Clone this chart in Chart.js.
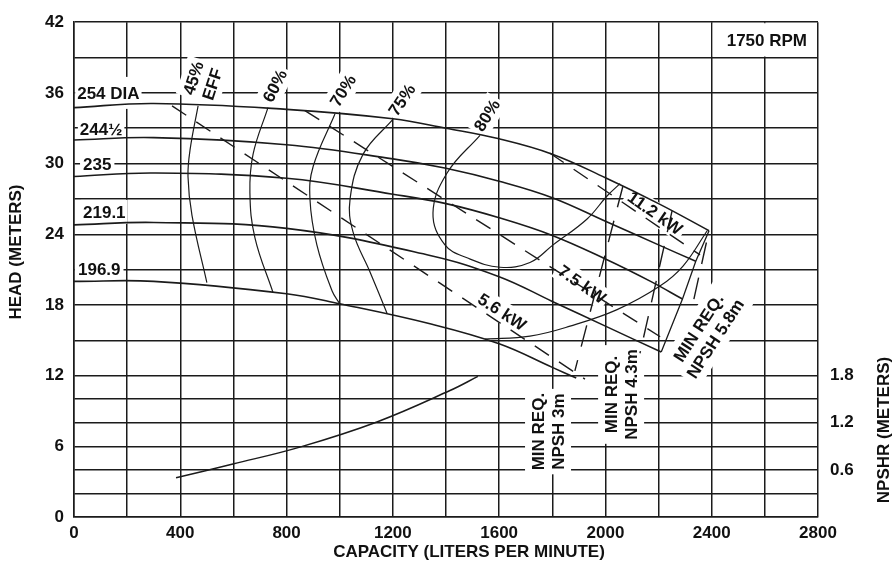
<!DOCTYPE html>
<html>
<head>
<meta charset="utf-8">
<script src="https://cdn.jsdelivr.net/npm/chart.js@4.4.1/dist/chart.umd.min.js"></script>
<style>
  html, body { margin: 0; padding: 0; background: #fff; }
  #wrap { width: 893px; height: 576px; position: relative; }
</style>
</head>
<body>
<div id="wrap"><canvas id="pump"></canvas></div>
<script>
// head (m) against capacity (l/min), one curve per impeller diameter
const head254  = [[0,34.75],[300,35.1],[800,34.6],[1200,33.8],[1400,33.0],[1600,32.1],[1800,30.8],[2000,28.8],[2200,26.6],[2390,24.3]]
const head2445 = [[0,32.0],[300,32.2],[800,31.6],[1200,30.4],[1400,29.6],[1600,28.5],[1800,27.1],[2000,25.1],[2200,23.1],[2340,21.7]]
const head235  = [[0,28.9],[300,29.2],[800,28.75],[1200,27.4],[1400,26.6],[1600,25.4],[1800,23.9],[2000,21.9],[2170,20.0],[2290,18.5]]
const head2191 = [[0,24.8],[300,25.0],[800,24.5],[1340,22.2],[1600,20.4],[1800,18.3],[2000,16.2],[2210,14.0]]
const head1969 = [[0,20.0],[300,20.0],[800,18.95],[1000,18.1],[1340,16.4],[1600,14.7],[1800,12.7],[1890,11.8]]
// end of the curves
const endCurve = [[2390,24.3],[2340,21.7],[2290,18.5],[2210,14.0]]

// efficiency contours
const eff45  = [[467,34.9],[437,31.2],[429,28.9],[444,25.6],[500,19.9]]
const eff60  = [[730,34.75],[674,30.8],[662,27.5],[681,23.7],[749,19.05]]
const eff70  = [[982,34.2],[900,29.75],[888,27.0],[914,23.1],[971,19.2],[1000,18.1]]
const eff75a = [[1200,33.75],[1088,30.8],[1039,27.0],[1050,24.2],[1114,20.8],[1178,17.3]]
const eff75b = [[1547,15.1],[1716,15.35],[1867,16.2],[2044,17.6],[2205,19.6],[2292,21.3],[2383,24.3]]
const eff80  = [[1528,32.4],[1404,29.2],[1351,25.8],[1396,23.1],[1479,22.0],[1603,21.2],[1716,21.6],[1803,23.1],[1931,25.3],[2006,27.25],[2055,28.3]]

// power lines
const kw56  = [[369,34.9],[1923,11.7]]
const kw75  = [[869,34.5],[2206,15.3]]
const kw112 = [[1790,30.9],[2356,22.25]]

// minimum required NPSH lines
const npsh3  = [[2066,28.1],[1885,12.4]]
const npsh43 = [[2251,26.0],[2130,13.9]]
const npsh58 = [[2380,23.3],[2330,18.2]]

// NPSHR curve (right axis, m)
const npshr = [[384,0.5],[598,0.675],[850,0.89],[1140,1.21],[1415,1.61],[1520,1.79]]

const headGrid = [0,2,4,6,8,10,12,15,18,21,24,27,30,33,36,39,42]
const npshTicks = [0.6,1.2,1.8]

const ink = "#1b1b1b"
const fontFam = '"Liberation Sans", Arial, sans-serif'

function pts(arr){ return arr.map(p => ({x: p[0], y: p[1]})) }

function solid(arr, w){ return {data: pts(arr), borderColor: ink, borderWidth: w, tension: 0.4, showLine: true, pointRadius: 0, fill: false} }
function dashed(arr, dash){ return {data: pts(arr), borderColor: ink, borderWidth: 1.4, borderDash: dash, tension: 0, showLine: true, pointRadius: 0, fill: false} }

const datasets = [
    solid(head254, 1.6), solid(head2445, 1.6), solid(head235, 1.6), solid(head2191, 1.6), solid(head1969, 1.6),
    Object.assign(solid(endCurve, 1.3), {tension: 0}),
    solid(eff45, 1.2), solid(eff60, 1.2), solid(eff70, 1.2), solid(eff75a, 1.2), solid(eff75b, 1.2), solid(eff80, 1.2),
    dashed(kw56, [17,12]), dashed(kw75, [17,12]), dashed(kw112, [17,12]),
    dashed(npsh3, [22,14]), dashed(npsh43, [22,14]), dashed(npsh58, [22,14]),
    Object.assign(solid(npshr, 1.5), {yAxisID: "y2"})
]

// text on the plot: [lines, capacity, head, angle, align]
const notes = [
    {lines: ["254 DIA"], q: 12, h: 36, rot: 0, align: "left", px: 2, py: 6},
    {lines: ["244\u00BD"], q: 22, h: 32.9, rot: 0, align: "left", px: 2, py: 3},
    {lines: ["235"], q: 34, h: 29.9, rot: 0, align: "left", px: 3, py: 3},
    {lines: ["219.1"], q: 34, h: 25.9, rot: 0, align: "left", px: 2, py: 2},
    {lines: ["196.9"], q: 15, h: 21, rot: 0, align: "left", px: 3, py: 3},
    {lines: ["45%", "EFF"], q: 485, h: 37, rot: -72, align: "center", px: 3, py: 2},
    {lines: ["60%"], q: 756, h: 36.6, rot: -63, align: "center", px: 3, py: 2},
    {lines: ["70%"], q: 1012, h: 36.2, rot: -58, align: "center", px: 3, py: 2},
    {lines: ["75%"], q: 1234, h: 35.4, rot: -56, align: "center", px: 3, py: 2},
    {lines: ["80%"], q: 1554, h: 34.1, rot: -58, align: "center", px: 3, py: 2},
    {lines: ["5.6 kW"], q: 1611, h: 17.4, rot: 33, align: "center", px: 3, py: 1},
    {lines: ["7.5 kW"], q: 1912, h: 19.75, rot: 35, align: "center", px: 3, py: 1},
    {lines: ["11.2 kW"], q: 2187, h: 25.8, rot: 35, align: "center", px: 3, py: 1},
    {lines: ["MIN REQ.", "NPSH 3m"], q: 1784, h: 7.25, rot: -90, align: "center", px: 4, py: 3},
    {lines: ["MIN REQ.", "NPSH 4.3m"], q: 2059, h: 10.4, rot: -90, align: "center", px: 4, py: 3},
    {lines: ["MIN REQ.", "NPSH 5.8m"], q: 2382, h: 15.6, rot: -57, align: "center", px: 4, py: 3}
]

function drawNote(chart, n, mode){
    const ctx = chart.ctx
    const x = chart.scales.x.getPixelForValue(n.q)
    const y = chart.scales.y.getPixelForValue(n.h)
    ctx.save()
    ctx.translate(x, y)
    ctx.rotate(n.rot * Math.PI / 180)
    ctx.font = "bold 17px " + fontFam
    const lh = 20
    const w = Math.max(...n.lines.map(t => ctx.measureText(t).width))
    const th = n.lines.length * lh
    const x0 = n.align === "left" ? 0 : -w / 2
    if(mode === "box"){
        ctx.fillStyle = "#fff"
        ctx.fillRect(x0 - n.px, -th / 2 - n.py, w + 2 * n.px, th + 2 * n.py)
    }else{
        ctx.fillStyle = "#111"
        ctx.textBaseline = "middle"
        ctx.textAlign = n.align
        n.lines.forEach((t, i) => ctx.fillText(t, 0, -th / 2 + lh * (i + 0.5) + 1))
    }
    ctx.restore()
}

const notesPlugin = {
    id: "notes",
    beforeDatasetsDraw(chart){
        const ctx = chart.ctx
        const xs = chart.scales.x, ys = chart.scales.y
        // rpm box in the top right cell
        ctx.save()
        ctx.fillStyle = "#fff"
        const bx = xs.getPixelForValue(2400) + 1, by = ys.getPixelForValue(42) + 1
        ctx.fillRect(bx, by, xs.getPixelForValue(2800) - bx - 1, ys.getPixelForValue(39) - by - 1)
        ctx.restore()
        notes.forEach(n => drawNote(chart, n, "box"))
    },
    afterDatasetsDraw(chart){
        notes.forEach(n => drawNote(chart, n, "text"))
        const ctx = chart.ctx
        const xs = chart.scales.x, ys = chart.scales.y
        ctx.save()
        ctx.fillStyle = "#111"
        ctx.font = "bold 17px " + fontFam
        ctx.textAlign = "center"
        ctx.textBaseline = "middle"
        ctx.fillText("1750 RPM", (xs.getPixelForValue(2400) + xs.getPixelForValue(2800)) / 2 + 2, (ys.getPixelForValue(42) + ys.getPixelForValue(39)) / 2 + 1)
        ctx.restore()
    },
    afterDraw(chart){
        const ctx = chart.ctx
        const area = chart.chartArea
        ctx.save()
        ctx.fillStyle = "#111"
        ctx.font = "bold 17px " + fontFam
        ctx.textAlign = "center"
        ctx.textBaseline = "middle"
        ctx.fillText("CAPACITY (LITERS PER MINUTE)", (area.left + area.right) / 2 + 23, 552)
        ctx.translate(16, 252)
        ctx.rotate(-Math.PI / 2)
        ctx.fillText("HEAD (METERS)", 0, 0)
        ctx.restore()
        ctx.save()
        ctx.fillStyle = "#111"
        ctx.font = "bold 17px " + fontFam
        ctx.textAlign = "center"
        ctx.textBaseline = "middle"
        ctx.translate(884, 430)
        ctx.rotate(-Math.PI / 2)
        ctx.fillText("NPSHR (METERS)", 0, 0)
        ctx.restore()
    }
}

const tickFont = {family: fontFam, size: 17, weight: "bold"}

new Chart(document.getElementById("pump").getContext("2d"), {
    type: "scatter",
    data: {datasets: datasets},
    options: {
        responsive: true,
        maintainAspectRatio: false,
        animation: false,
        layout: {padding: {top: 13, left: 0, right: 0, bottom: 0}},
        plugins: {legend: {display: false}, tooltip: {enabled: false}},
        scales: {
            x: {
                type: "linear", min: 0, max: 2800,
                grid: {color: ink, lineWidth: 1.5, drawTicks: false},
                border: {color: ink, width: 1.5},
                ticks: {stepSize: 200, padding: 6, color: "#111", font: tickFont, autoSkip: false, maxRotation: 0,
                    callback: v => v % 400 === 0 ? String(v) : ""},
                afterFit: s => { s.height = 59 }
            },
            y: {
                min: 0, max: 42,
                grid: {color: ink, lineWidth: 1.5, drawTicks: false},
                border: {color: ink, width: 1.5},
                afterBuildTicks: s => { s.ticks = headGrid.map(v => ({value: v})) },
                ticks: {padding: 10, color: "#111", font: tickFont, autoSkip: false,
                    callback: v => v % 6 === 0 ? String(v) : ""},
                afterFit: s => { s.width = 74 }
            },
            y2: {
                position: "right", min: 0, max: 6.3,
                grid: {display: false, drawTicks: false},
                border: {display: false},
                afterBuildTicks: s => { s.ticks = npshTicks.map(v => ({value: v})) },
                ticks: {padding: 12, color: "#111", font: tickFont, autoSkip: false,
                    callback: v => v.toFixed(1)},
                afterFit: s => { s.width = 75 }
            }
        }
    },
    plugins: [notesPlugin]
})
</script>
</body>
</html>
